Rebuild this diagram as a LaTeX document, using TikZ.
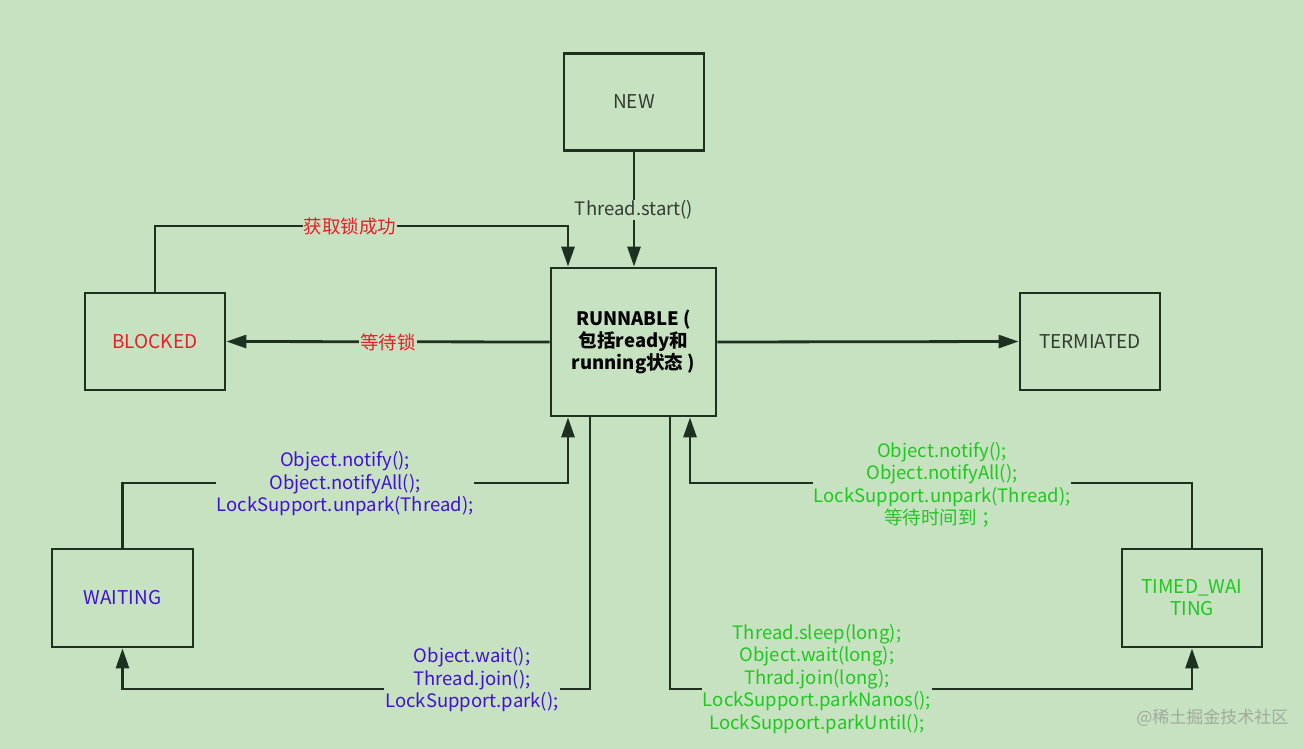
\documentclass[tikz,border=0pt]{standalone}
\usepackage{fontspec}
\setmainfont{Noto Sans CJK SC}
\usetikzlibrary{arrows.meta}
\definecolor{bgc}{RGB}{199,226,192}
\definecolor{linec}{RGB}{30,48,32}
\definecolor{txtc}{RGB}{50,60,50}
\definecolor{redc}{RGB}{232,30,40}
\definecolor{bluec}{RGB}{64,16,215}
\definecolor{greenc}{RGB}{30,200,30}
\definecolor{wmc}{RGB}{160,170,160}
\begin{document}
\begin{tikzpicture}[x=1pt,y=-1pt,
  state/.style={draw=linec,line width=2.8pt,minimum width=140pt,minimum height=97pt,inner sep=0pt,align=center,font=\fontsize{19}{22}\selectfont},
  conn/.style={draw=linec,line width=2.8pt,-{Triangle[length=20pt,width=13pt]}},
  lbl/.style={fill=bgc,inner sep=1pt,align=center,font=\fontsize{18.5}{22.5}\selectfont}]
\fill[bgc] (0,0) rectangle (1304,749);
\useasboundingbox (0,0) rectangle (1304,749);
\node[state,text=txtc] (new) at (634,102) {NEW};
\node[state,minimum width=165pt,minimum height=148pt,font=\fontsize{18.5}{22}\selectfont\bfseries] (run) at (633.5,342) {RUNNABLE (\\包括ready和\\running状态 )};
\node[state,text=redc] (blk) at (155,341.5) {BLOCKED};
\node[state,text=txtc] (term) at (1090,341.5) {TERMIATED};
\node[state,text=bluec,minimum width=141pt,minimum height=98pt] (wait) at (122.5,598) {WAITING};
\node[state,text=greenc,minimum height=98pt] (tw) at (1192,598) {TIMED\_WAI\\TING};
\coordinate (b1) at (155,226);
\coordinate (b2) at (568,226);
\coordinate (w1) at (122.5,483);
\coordinate (w2) at (568,483);
\coordinate (w3) at (590,689);
\coordinate (w4) at (122.5,689);
\coordinate (t1) at (1192,483);
\coordinate (t2) at (690,483);
\coordinate (t3) at (670,689);
\coordinate (t4) at (1192,689);
% NEW -> RUNNABLE
\draw[conn] (new.south) -- (run.north -| new.south);
\node[lbl,text=txtc] (lstart) at (634,210) {Thread.start()};
% BLOCKED -> RUNNABLE
\draw[conn] (blk.north -| b1) -- (b1) -- (b2) -- (run.north -| b2);
\node[lbl,text=redc] (lacq) at (350,226) {获取锁成功};
% RUNNABLE -> BLOCKED
\draw[conn] (run.west) -- (blk.east);
\node[lbl,text=redc] (lwait) at (388,342) {等待锁};
% RUNNABLE -> TERMIATED
\draw[conn] (run.east) -- (term.west);
% WAITING -> RUNNABLE
\draw[conn] (wait.north) -- (w1) -- (w2) -- (run.south -| w2);
\node[lbl,text=bluec] (lw1) at (345,484) {Object.notify();\\Object.notifyAll();\\LockSupport.unpark(Thread);};
% RUNNABLE -> WAITING
\draw[conn] (run.south -| w3) -- (w3) -- (w4) -- (wait.south);
\node[lbl,text=bluec] (lw2) at (472,680) {Object.wait();\\Thread.join();\\LockSupport.park();};
% TIMED_WAITING -> RUNNABLE
\draw[conn] (tw.north) -- (t1) -- (t2) -- (run.south -| t2);
\node[lbl,text=greenc] (lt1) at (942,485) {Object.notify();\\Object.notifyAll();\\LockSupport.unpark(Thread);\\等待时间到 ；};
% RUNNABLE -> TIMED_WAITING
\draw[conn] (run.south -| t3) -- (t3) -- (t4) -- (tw.south);
\node[lbl,text=greenc] (lt2) at (817,679) {Thread.sleep(long);\\Object.wait(long);\\Thrad.join(long);\\LockSupport.parkNanos();\\LockSupport.parkUntil();};
% watermark
\node[text=wmc,font=\fontsize{17}{20}\selectfont,anchor=east] (wm) at (1292,718) {@稀土掘金技术社区};
\end{tikzpicture}
\end{document}
